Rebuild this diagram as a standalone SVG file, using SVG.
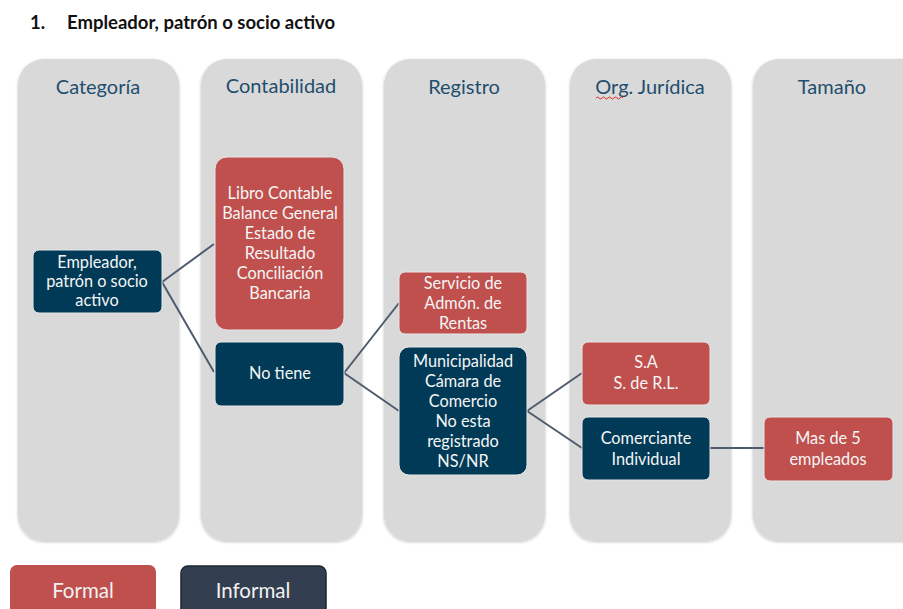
<svg xmlns="http://www.w3.org/2000/svg" width="903" height="609" viewBox="0 0 903 609">
<defs>
<filter id="sh" x="-10%" y="-10%" width="120%" height="120%">
<feGaussianBlur in="SourceAlpha" stdDeviation="1.5"/>
<feOffset dx="0" dy="1" result="b"/>
<feComponentTransfer><feFuncA type="linear" slope="0.25"/></feComponentTransfer>
<feMerge><feMergeNode/><feMergeNode in="SourceGraphic"/></feMerge>
</filter>
</defs>
<style>
.col{fill:#D9D9D9;filter:url(#sh)}
.hd{font-family:Lato,"Open Sans",sans-serif;font-size:20px;fill:#1F4E6E;text-anchor:middle}
.red{fill:#C0504D;stroke:#E6E6E6;stroke-width:1}
.blue{fill:#003A57;stroke:#E6E6E6;stroke-width:1}
.t{font-family:Lato,"Open Sans",sans-serif;font-size:16.3px;fill:#F5F5F5;text-anchor:middle}
.cn{stroke:#4F5B6C;stroke-width:2;fill:none}
.title{font-family:Lato,"Open Sans",sans-serif;font-size:18.5px;font-weight:bold;fill:#111}
.lg{font-family:Lato,"Open Sans",sans-serif;font-size:20.5px;fill:#F2F2F2;text-anchor:middle}
</style>
<rect width="903" height="609" fill="#FFFFFF"/>
<g id="title"><text class="title" x="30" y="29">1.</text><text class="title" x="67" y="29">Empleador, patrón o socio activo</text></g>
<g id="columns">
<rect class="col" x="18" y="59" width="161" height="482" rx="26"/>
<rect class="col" x="201" y="59" width="161" height="482" rx="26"/>
<rect class="col" x="384" y="59" width="161" height="482" rx="26"/>
<rect class="col" x="570" y="59" width="161" height="482" rx="26"/>
<rect class="col" x="753" y="59" width="175" height="482" rx="26"/>
<text class="hd" x="98" y="94">Categoría</text>
<text class="hd" x="281" y="93">Contabilidad</text>
<text class="hd" x="464" y="94">Registro</text>
<text class="hd" x="650" y="94">Org. Jurídica</text>
<path d="M596 98 q1.5 -2 3 0 t3 0 t3 0 t3 0 t3 0 t3 0 t3 0 t3 0 t3 0" stroke="#E0302A" stroke-width="1" fill="none"/>
<text class="hd" x="832" y="94">Tamaño</text>
</g>
<g id="connectors">
<path class="cn" d="M162 282 L214 244 M162 282 L214 372"/>
<path class="cn" d="M344 373 L399 303 M344 373 L399 411"/>
<path class="cn" d="M527 411 L582 373 M527 411 L582 448"/>
<path class="cn" d="M710 448 L764 448"/>
</g>
<g id="n-empleador"><rect class="blue" x="33" y="250" width="129" height="63" rx="6"/>
<text class="t" x="97" y="268">Empleador,</text><text class="t" x="97" y="287">patrón o socio</text><text class="t" x="97" y="306">activo</text></g>
<g id="n-libro"><rect class="red" x="215" y="157" width="129" height="173" rx="12"/>
<text class="t" x="280" y="199">Libro Contable</text><text class="t" x="280" y="219">Balance General</text><text class="t" x="280" y="239">Estado de</text><text class="t" x="280" y="259">Resultado</text><text class="t" x="280" y="279">Conciliación</text><text class="t" x="280" y="299">Bancaria</text></g>
<g id="n-notiene"><rect class="blue" x="215" y="342" width="129" height="64" rx="6"/>
<text class="t" x="280" y="379">No tiene</text></g>
<g id="n-servicio"><rect class="red" x="399" y="272" width="128" height="62" rx="6"/>
<text class="t" x="463" y="289">Servicio de</text><text class="t" x="463" y="309">Admón. de</text><text class="t" x="463" y="329">Rentas</text></g>
<g id="n-municipalidad"><rect class="blue" x="399" y="347" width="128" height="128" rx="10"/>
<text class="t" x="463" y="367">Municipalidad</text><text class="t" x="463" y="387">Cámara de</text><text class="t" x="463" y="407">Comercio</text><text class="t" x="463" y="427">No esta</text><text class="t" x="463" y="447">registrado</text><text class="t" x="463" y="467">NS/NR</text></g>
<g id="n-sa"><rect class="red" x="582" y="342" width="128" height="63" rx="6"/>
<text class="t" x="646" y="368">S.A</text><text class="t" x="646" y="389">S. de R.L.</text></g>
<g id="n-comerciante"><rect class="blue" x="582" y="417" width="128" height="63" rx="6"/>
<text class="t" x="646" y="444">Comerciante</text><text class="t" x="646" y="465">Individual</text></g>
<g id="n-mas5"><rect class="red" x="764" y="417" width="129" height="64" rx="6"/>
<text class="t" x="828" y="444">Mas de 5</text><text class="t" x="828" y="465">empleados</text></g>
<g id="legend">
<rect x="10" y="565" width="146" height="60" rx="7" fill="#C0504D"/>
<text class="lg" x="83" y="598">Formal</text>
<rect x="181" y="566" width="145" height="60" rx="7" fill="#333F50" stroke="#1E2633" stroke-width="1.5"/>
<text class="lg" x="253" y="598">Informal</text>
</g>
</svg>
